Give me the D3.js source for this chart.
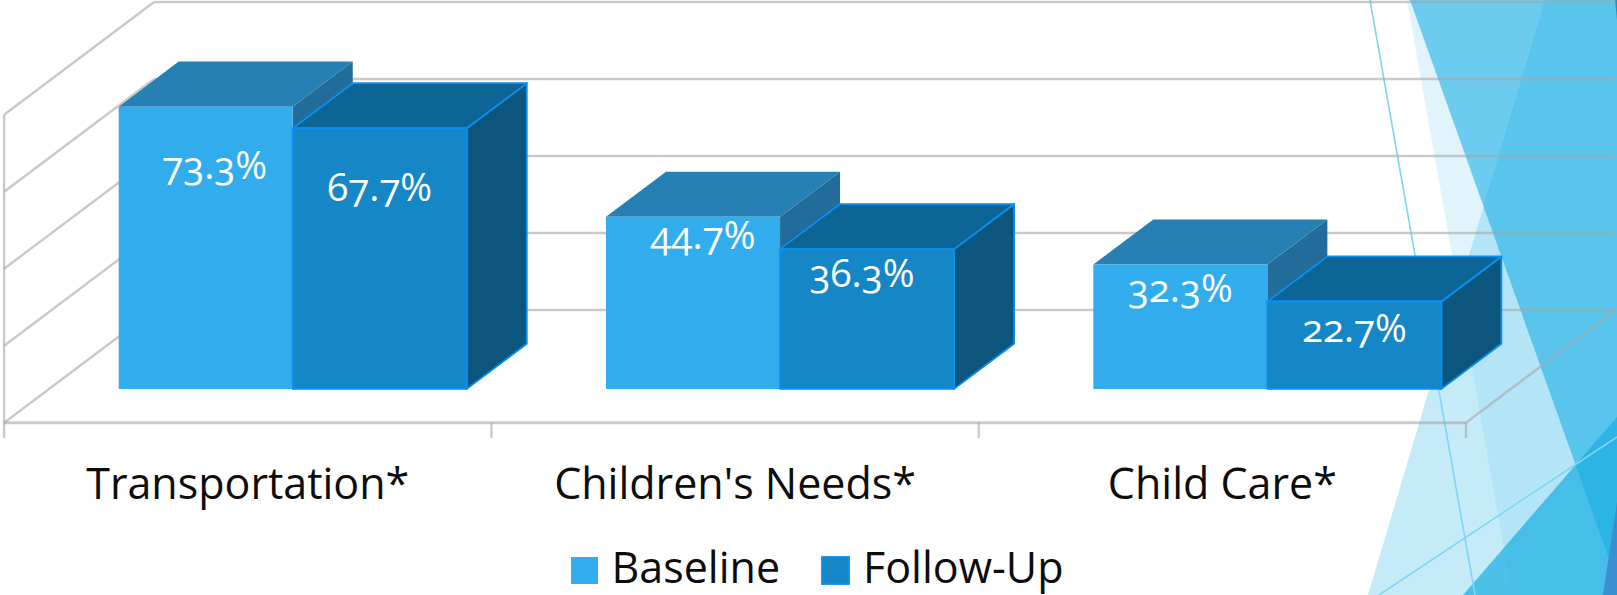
<!DOCTYPE html>
<html>
<head>
<meta charset="utf-8">
<style>
  html, body { margin: 0; padding: 0; background: #fff; }
  svg { display: block; }
  text { font-family: "Open Sans", "Noto Sans", sans-serif; }
  .num { font-variant-numeric: oldstyle-nums; font-feature-settings: "onum" 1; }
</style>
<script src="https://cdn.jsdelivr.net/npm/d3@7/dist/d3.min.js"></script>
</head>
<body>
<script>
// Chart content
const categories = ["Transportation*", "Children's Needs*", "Child Care*"];
const seriesNames = ["Baseline", "Follow-Up"];
const baseline = [73.3, 44.7, 32.3];
const followUp = [67.7, 36.3, 22.7];
const gridTicks = [0, 20, 40, 60, 80];

// Slide backdrop shapes: translucent facets in the right-hand corner
const facets = [
  { pts: [[1407, 0], [1512, 595], [1617, 595], [1617, 0]], fill: "#0faae4", op: 0.13 },
  { pts: [[1545, 0], [1617, 0], [1617, 595], [1368, 595]], fill: "#75cff0", op: 0.42 },
  { pts: [[1410, 0], [1617, 0], [1617, 581]], fill: "#0faae4", op: 0.55 },
  { pts: [[1463, 595], [1617, 417], [1617, 595]], fill: "#18aee1", op: 0.7 },
  { pts: [[1603, 595], [1617, 502], [1617, 595]], fill: "#3a8fd0", op: 1 },
  { pts: [[1615, 0], [1617, 0], [1617, 20]], fill: "#2f8fbf", op: 1 }
];
const facetLines = [
  [[1370, 0], [1475, 595]],
  [[1379, 595], [1617, 437]]
];

const W = 1617, H = 595;
const svg = d3.select("body").append("svg").attr("width", W).attr("height", H);

// Oblique projection: front plane of the floor plus a depth offset
const depthDX = 150, depthDY = 112.7;
const x0 = d3.scaleBand().domain(categories).range([4.1, 1466]);
const x1 = d3.scaleBand().domain(seriesNames).range([0, x0.bandwidth()]).paddingInner(0).paddingOuter(0.4);
const y = d3.scaleLinear().domain([0, 80]).range([422.7, 114.7]);
const project = (px, v, d) => [px + d * depthDX, y(v) - d * depthDY];
const poly = d3.line();
const closed = pts => poly(pts) + "Z";

// Backdrop
svg.append("g").selectAll("path").data(facets).join("path")
  .attr("d", d => closed(d.pts)).attr("fill", d => d.fill).attr("fill-opacity", d => d.op);
svg.append("g").selectAll("path").data(facetLines).join("path")
  .attr("d", d => poly(d)).attr("fill", "none").attr("stroke", "#7fd6f2").attr("stroke-width", 1.6);

// Walls and floor
const gridColor = "#a6a6a6", gridOpacity = 0.6;
const walls = svg.append("g").attr("fill", "none").attr("stroke", gridColor)
  .attr("stroke-opacity", gridOpacity).attr("stroke-width", 2.4);
const xLeft = x0.range()[0], xRight = x0.range()[1];
walls.selectAll(".back").data(gridTicks).join("path").attr("class", "back")
  .attr("d", v => poly([project(xLeft, v, 1), [1615, project(xLeft, v, 1)[1]]]));
walls.selectAll(".side").data(gridTicks).join("path").attr("class", "side")
  .attr("d", v => poly([project(xLeft, v, 0), project(xLeft, v, 1)]));
walls.append("path").attr("d", poly([[xLeft, y(80)], [xLeft, 438]]));
walls.append("path").attr("stroke-width", 3).attr("d", poly([[xLeft, y(0)], [xRight, y(0)]]));
walls.append("path").attr("d", poly([project(xRight, 0, 0), project(xRight, 0, 1)]));
walls.selectAll(".tick").data(categories).join("path").attr("class", "tick")
  .attr("d", c => { const tx = x0(c) + x0.bandwidth(); return poly([[tx, y(0)], [tx, 438]]); });

// Cube colours by series
const styles = {
  "Baseline":  { front: "#31adee", top: "#2680b3", side: "#216c98", stroke: "none", sw: 0 },
  "Follow-Up": { front: "#1586c6", top: "#0c6594", side: "#0c567e", stroke: "#0a8ff0", sw: 1.8 }
};
const d0 = 0.3, d1 = 0.7;
const valuesOf = { "Baseline": baseline, "Follow-Up": followUp };

// Label placement relative to each bar's front centre
const labelNudge = {
  "Baseline":  [[9, 72], [10, 32], [0, 37]],
  "Follow-Up": [[0, 73], [-5, 38], [0, 41]]
};

const bars = svg.append("g");
categories.forEach((cat, i) => {
  seriesNames.forEach(name => {
    const v = valuesOf[name][i], s = styles[name];
    const l = x0(cat) + x1(name), r = l + x1.bandwidth();
    const g = bars.append("g").attr("stroke", s.stroke).attr("stroke-width", s.sw).attr("stroke-linejoin", "round");
    g.append("path").attr("fill", s.side)
      .attr("d", closed([project(r, 0, d0), project(r, v, d0), project(r, v, d1), project(r, 0, d1)]));
    g.append("path").attr("fill", s.top)
      .attr("d", closed([project(l, v, d0), project(r, v, d0), project(r, v, d1), project(l, v, d1)]));
    g.append("path").attr("fill", s.front)
      .attr("d", closed([project(l, v, d0), project(r, v, d0), project(r, 0, d0), project(l, 0, d0)]));
  });
});

// Value labels
categories.forEach((cat, i) => {
  seriesNames.forEach(name => {
    const v = valuesOf[name][i];
    const l = x0(cat) + x1(name);
    const [fx, fy] = project(l + x1.bandwidth() / 2, v, d0);
    const [nx, ny] = labelNudge[name][i];
    svg.append("text").attr("class", "num")
      .attr("x", fx + nx).attr("y", fy + ny)
      .attr("text-anchor", "middle").attr("fill", "#fff")
      .attr("font-size", 38.5).text(v.toFixed(1) + "%");
  });
});

// Category labels
svg.append("g").selectAll("text").data(categories).join("text")
  .attr("x", c => x0(c) + x0.bandwidth() / 2).attr("y", 499)
  .attr("text-anchor", "middle").attr("fill", "#0d0d0d").attr("font-size", 43)
  .text(c => c);

// Legend
const legendItems = [
  { name: "Baseline", box: 571, text: 611.5 },
  { name: "Follow-Up", box: 822, text: 863 }
];
const legend = svg.append("g");
legendItems.forEach(it => {
  const s = styles[it.name];
  legend.append("rect").attr("x", it.box).attr("y", 557).attr("width", 27).attr("height", 27)
    .attr("fill", s.front).attr("stroke", s.stroke).attr("stroke-width", s.sw);
  legend.append("text").attr("x", it.text).attr("y", 583)
    .attr("fill", "#0d0d0d").attr("font-size", 43).text(it.name);
});
</script>
</body>
</html>
